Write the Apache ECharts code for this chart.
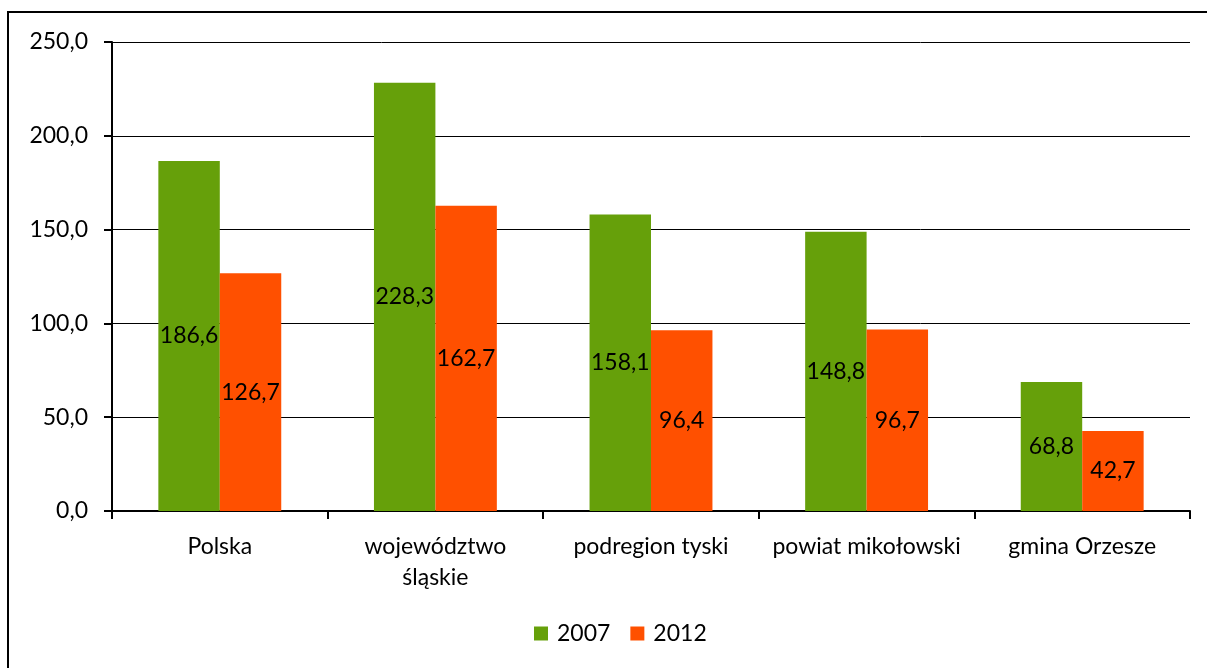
<!DOCTYPE html>
<html>
<head>
<meta charset="utf-8">
<style>
  html, body { margin: 0; padding: 0; background: #fff; }
  #main { width: 1207px; height: 668px; }
</style>
</head>
<body>
<div id="main"></div>
<script src="https://cdn.jsdelivr.net/npm/echarts@6/dist/echarts.min.js"></script>
<script>
var categories = ['Polska', 'województwo\nśląskie', 'podregion tyski', 'powiat mikołowski', 'gmina Orzesze'];
var years = ['2007', '2012'];
var values2007 = [186.6, 228.3, 158.1, 148.8, 68.8];
var values2012 = [126.7, 162.7, 96.4, 96.7, 42.7];
var yTicks = [0, 50, 100, 150, 200, 250];

var font = 'Lato, "Open Sans", sans-serif';
function fmt(v) { return v.toFixed(1).replace('.', ','); }

var chart = echarts.init(document.getElementById('main'));
var labelOpt = {
    show: true,
    position: 'inside',
    color: '#000',
    fontFamily: font,
    fontSize: 23,
    formatter: function (p) { return fmt(p.value); }
};
chart.setOption({
    animation: false,
    textStyle: { fontFamily: font },
    graphic: [{
        type: 'rect',
        shape: { x: 8, y: 12, width: 1400, height: 900 },
        style: { fill: 'none', stroke: '#000', lineWidth: 2 }
    }],
    grid: { left: 112, right: 17, top: 42, bottom: 157 },
    legend: {
        data: years,
        bottom: 18,
        left: 529,
        itemWidth: 14,
        itemHeight: 14,
        itemGap: 20,
        icon: 'rect',
        textStyle: { fontFamily: font, fontSize: 23, color: '#000', padding: [0, 0, 0, 4] }
    },
    xAxis: {
        type: 'category',
        data: categories,
        axisLine: { lineStyle: { color: '#000', width: 2 } },
        axisTick: { show: true, length: 8, lineStyle: { color: '#000', width: 2 } },
        axisLabel: { color: '#000', fontFamily: font, fontSize: 23, margin: 20, lineHeight: 31, interval: 0 }
    },
    yAxis: {
        type: 'value',
        min: yTicks[0],
        max: yTicks[yTicks.length - 1],
        interval: 50,
        axisLine: { show: true, lineStyle: { color: '#000', width: 2 } },
        axisTick: { show: true, length: 8, lineStyle: { color: '#000', width: 2 } },
        splitLine: { lineStyle: { color: '#000', width: 1 } },
        axisLabel: { color: '#000', fontFamily: font, fontSize: 23, margin: 24, formatter: fmt }
    },
    series: [{
        name: years[0],
        type: 'bar',
        data: values2007,
        barGap: '0%',
        barCategoryGap: '43%',
        itemStyle: { color: '#66A00A' },
        label: labelOpt
    }, {
        name: years[1],
        type: 'bar',
        data: values2012,
        itemStyle: { color: '#FF5000' },
        label: labelOpt
    }]
});
</script>
</body>
</html>
